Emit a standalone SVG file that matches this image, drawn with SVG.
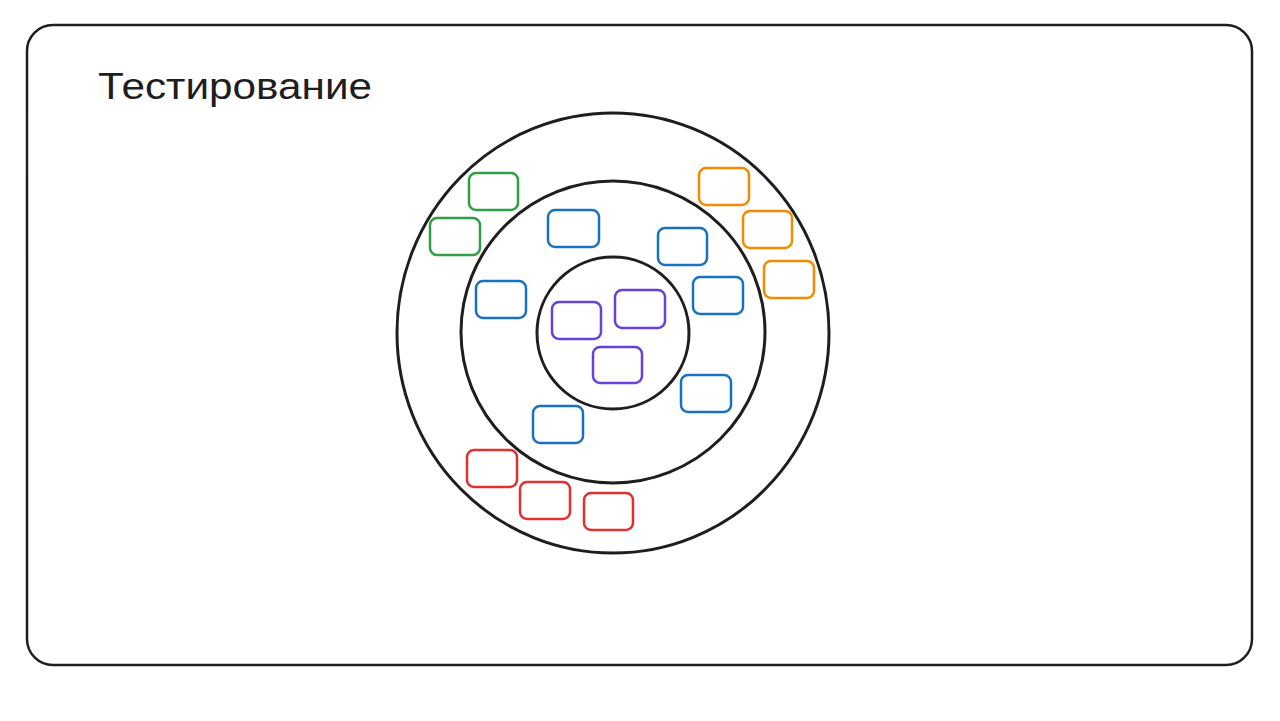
<svg xmlns="http://www.w3.org/2000/svg" width="1280" height="721" viewBox="0 0 1280 721">
<style>
.frame{fill:none;stroke:#1e1e1e;stroke-width:2.5}
.ring{fill:none;stroke:#1e1e1e;stroke-width:3}
.box{fill:none;stroke-width:2.5}
.g{stroke:#2f9e44}.o{stroke:#f08c00}.b{stroke:#1971c2}.p{stroke:#6741d9}.r{stroke:#e03131}
.title{font-family:"Comic Neue","Liberation Sans",sans-serif;font-size:36px;fill:#1e1e1e}
</style>
<rect width="1280" height="721" fill="#ffffff"/>
<g id="frame"><rect class="frame" x="27" y="25" width="1225" height="640" rx="26"/></g>
<g id="title"><text class="title" x="98" y="99" textLength="274" lengthAdjust="spacingAndGlyphs">Тестирование</text></g>
<g id="rings">
<ellipse id="outer" class="ring" cx="613" cy="333" rx="216" ry="220"/>
<ellipse id="middle" class="ring" cx="613" cy="332" rx="152" ry="151"/>
<ellipse id="inner" class="ring" cx="613" cy="333" rx="76" ry="76"/>
</g>
<g id="green">
<rect class="box g" x="469" y="173" width="49" height="37" rx="7"/>
<rect class="box g" x="430" y="218" width="50" height="37" rx="7"/>
</g>
<g id="orange">
<rect class="box o" x="699" y="168" width="50" height="37" rx="7"/>
<rect class="box o" x="743" y="211" width="49" height="37" rx="7"/>
<rect class="box o" x="764" y="261" width="50" height="37" rx="7"/>
</g>
<g id="blue">
<rect class="box b" x="548" y="210" width="51" height="37" rx="7"/>
<rect class="box b" x="658" y="228" width="49" height="37" rx="7"/>
<rect class="box b" x="476" y="281" width="50" height="37" rx="7"/>
<rect class="box b" x="693" y="277" width="50" height="37" rx="7"/>
<rect class="box b" x="681" y="375" width="50" height="37" rx="7"/>
<rect class="box b" x="533" y="406" width="50" height="37" rx="7"/>
</g>
<g id="purple">
<rect class="box p" x="552" y="302" width="49" height="37" rx="7"/>
<rect class="box p" x="615" y="290" width="50" height="38" rx="7"/>
<rect class="box p" x="593" y="347" width="49" height="36" rx="7"/>
</g>
<g id="red">
<rect class="box r" x="467" y="450" width="50" height="37" rx="7"/>
<rect class="box r" x="520" y="482" width="50" height="37" rx="7"/>
<rect class="box r" x="584" y="493" width="49" height="37" rx="7"/>
</g>
<g id="connectors"/>
</svg>
